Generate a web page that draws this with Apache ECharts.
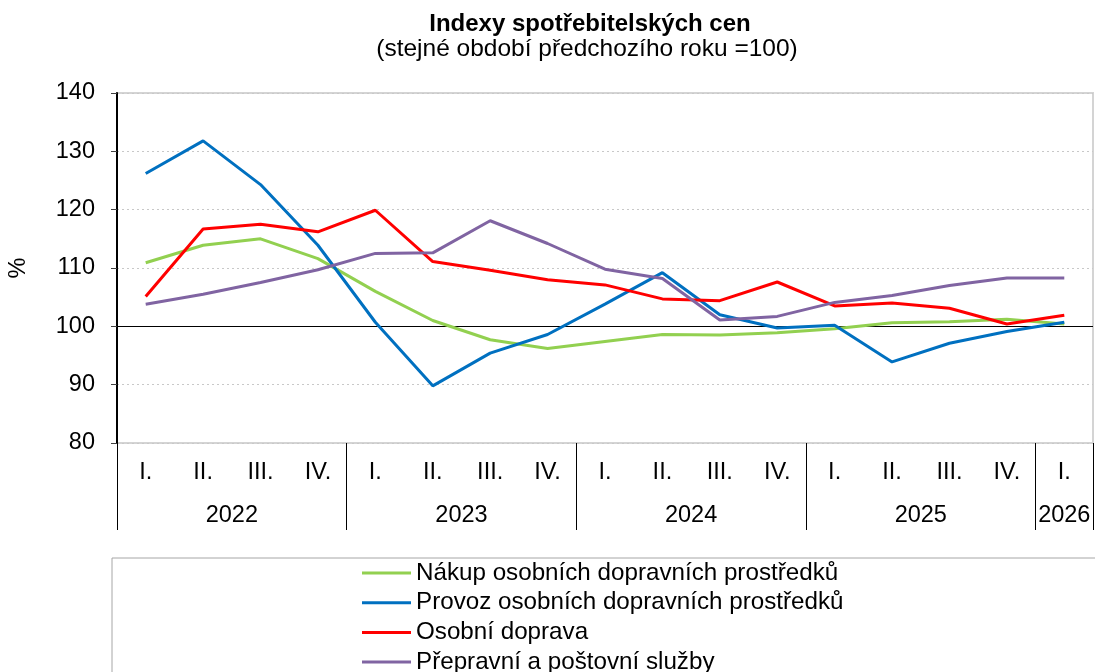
<!DOCTYPE html>
<html>
<head>
<meta charset="utf-8">
<script src="https://cdn.jsdelivr.net/npm/echarts@6/dist/echarts.min.js"></script>
<style>html,body{margin:0;padding:0;background:#fff}#c{width:1095px;height:672px}</style>
</head>
<body>
<div id="c"></div>
<script>
const quarters = ['I.','II.','III.','IV.','I.','II.','III.','IV.','I.','II.','III.','IV.','I.','II.','III.','IV.','I.'];
const years = ['2022','2023','2024','2025','2026'];
const quartersPerYear = [4,4,4,4,1];
const yTicks = [80, 90, 100, 110, 120, 130, 140];

const nakup = [110.9,113.9,115.0,111.6,106.0,101.0,97.7,96.2,97.4,98.6,98.5,98.9,99.6,100.6,100.8,101.2,100.4];
const provoz = [126.2,131.8,124.3,113.9,100.7,89.8,95.4,98.6,103.8,109.2,102.0,99.7,100.2,93.9,97.1,99.1,100.7];
const osobni = [105.1,116.7,117.5,116.2,119.9,111.1,109.6,108.0,107.1,104.7,104.4,107.6,103.5,104.0,103.1,100.4,101.9];
const prepravni = [103.8,105.5,107.5,109.7,112.5,112.6,118.1,114.2,109.8,108.2,101.1,101.7,104.1,105.3,107.0,108.3,108.3];

const seriesNames = ['Nákup osobních dopravních prostředků','Provoz osobních dopravních prostředků','Osobní doprava','Přepravní a poštovní služby'];
const colors = ['#92D050','#0070C0','#FF0000','#8064A2'];

// Build year axis (half-quarter resolution) from years/quartersPerYear
const halfCount = quarters.length * 2;
const yearLabels = new Array(halfCount + 1).fill('');
const yearTickIdx = [];
let start = 0;
years.forEach((y, i) => {
  yearTickIdx.push(start * 2);
  yearLabels[start * 2 + quartersPerYear[i]] = y;
  start += quartersPerYear[i];
});
yearTickIdx.push(halfCount);

const font = 'Liberation Sans, Arial, sans-serif';
const fs = 23.5;
const chart = echarts.init(document.getElementById('c'), null, {renderer: 'canvas'});
const allData = [nakup, provoz, osobni, prepravni];

chart.setOption({
  animation: false,
  textStyle: {fontFamily: font, color: '#000'},
  title: [
    {text: 'Indexy spotřebitelských cen', left: 585, top: 7, textAlign: 'center',
     textStyle: {fontFamily: font, fontSize: 24, fontWeight: 'bold', color: '#000'}},
    {text: '(stejné období předchozího roku =100)', left: 582, top: 32, textAlign: 'center',
     textStyle: {fontFamily: font, fontSize: 24.5, fontWeight: 'normal', color: '#000'}}
  ],
  grid: {left: 117, right: 2, top: 93, bottom: 229, show: true, borderColor: '#d4d4d4', borderWidth: 2,
         containLabel: false, outerBoundsMode: 'none'},
  legend: {
    orient: 'vertical', left: 112, top: 558, height: 200,
    padding: [3, 280, 40, 250],
    borderColor: '#a6a6a6', borderWidth: 1,
    icon: 'rect', itemWidth: 49, itemHeight: 3, itemGap: 5.7,
    selectedMode: false,
    textStyle: {fontFamily: font, fontSize: 24.2, lineHeight: 24, color: '#000'},
    data: seriesNames
  },
  xAxis: [
    {type: 'category', data: quarters, position: 'bottom', boundaryGap: true,
     axisLine: {show: false, onZero: false}, axisTick: {show: false},
     axisLabel: {fontFamily: font, fontSize: fs, color: '#000', margin: 18, interval: 0},
     splitLine: {show: false}},
    {type: 'category', data: yearLabels, position: 'bottom', boundaryGap: false,
     axisLine: {show: false, onZero: false},
     axisTick: {show: true, length: 87, interval: (idx) => yearTickIdx.includes(idx), lineStyle: {color: '#000', width: 1}},
     axisLabel: {fontFamily: font, fontSize: fs, color: '#000', margin: 61, interval: 0},
     splitLine: {show: false}}
  ],
  yAxis: {
    type: 'value', min: yTicks[0], max: yTicks[yTicks.length - 1], interval: 10,
    name: '%', nameLocation: 'middle', nameRotate: 90, nameGap: 86,
    nameTextStyle: {fontFamily: font, fontSize: fs, color: '#000'},
    axisLine: {show: true, lineStyle: {color: '#000', width: 2}},
    axisTick: {show: true, length: 6, lineStyle: {color: '#404040'}},
    axisLabel: {fontFamily: font, fontSize: fs, color: '#000', margin: 22},
    splitLine: {show: true, lineStyle: {color: '#c8c8c8', type: [2, 3], width: 1}}
  },
  series: allData.map((d, i) => ({
    name: seriesNames[i], type: 'line', data: d, xAxisIndex: 0, yAxisIndex: 0,
    showSymbol: false, symbol: 'none', smooth: false,
    lineStyle: {color: colors[i], width: 3}, itemStyle: {color: colors[i]},
    z: 3,
    markLine: i === 0 ? {silent: true, symbol: 'none', label: {show: false},
      lineStyle: {color: '#000', width: 1, type: 'solid'}, data: [{yAxis: 100}], z: 2} : undefined
  }))
});
</script>
</body>
</html>
